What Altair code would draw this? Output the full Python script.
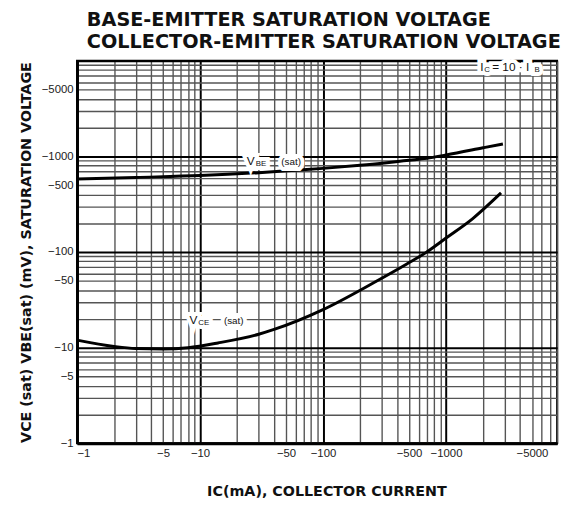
import altair as alt
import pandas as pd

# ---- data ----
vbe_ic = [1, 3, 10, 30, 60, 100, 200, 500, 700, 1000, 2000, 2900]
vbe_mv = [580, 603, 630, 676, 717, 750, 807, 912, 955, 1035, 1230, 1350]

vce_ic = [1, 2, 3, 5, 8, 14, 30, 40, 100, 260, 480, 680, 1000, 1650, 2800]
vce_mv = [12, 10.3, 9.8, 9.7, 10, 11.2, 13.8, 15.5, 25, 48, 75, 98, 140, 224, 415]

label_vals = [1, 5, 10, 50, 100, 500, 1000, 5000]
decades = [1, 10, 100, 1000, 10000]
grid_vals = [m * d for d in [1, 10, 100, 1000] for m in range(1, 10)] + [10000]

title_lines = ["BASE-EMITTER SATURATION VOLTAGE", "COLLECTOR-EMITTER SATURATION VOLTAGE"]
x_title = "IC(mA), COLLECTOR CURRENT"
y_title = "VCE (sat) VBE(sat) (mV),  SATURATION VOLTAGE"

curves = pd.DataFrame(
    {"ic": vbe_ic + vce_ic,
     "mv": vbe_mv + vce_mv,
     "series": ["VBE"] * len(vbe_ic) + ["VCE"] * len(vce_ic)}
)

lab_list = "[" + ",".join(str(v) for v in label_vals) + "]"
dec_list = "[" + ",".join(str(v) for v in decades) + "]"
label_expr = f"indexof({lab_list}, datum.value) >= 0 ? '\u2212' + datum.value : ''"
grid_color = {"condition": {"test": f"indexof({dec_list}, datum.value) >= 0", "value": "#000000"}, "value": "#555555"}
grid_width = {"condition": {"test": f"indexof({dec_list}, datum.value) >= 0", "value": 2}, "value": 1.4}

xscale = alt.Scale(type="log", domain=[1, 8000], nice=False)
yscale = alt.Scale(type="log", domain=[1, 10000], nice=False)

common_axis = dict(
    values=grid_vals, labelExpr=label_expr, labelOverlap=False, ticks=False,
    gridColor=grid_color, gridWidth=grid_width, gridOpacity=1,
    domainColor="black", domainWidth=3,
    labelFont="Liberation Sans", labelFontSize=11.5, labelColor="#222",
    titleFont="DejaVu Sans", titleFontWeight="bold", titleColor="#111",
)

x_enc = alt.X("ic:Q", scale=xscale,
              axis=alt.Axis(title=x_title, titleFontSize=14.5, titlePadding=26, titleX=253,
                            labelPadding=4, **common_axis))
y_enc = alt.Y("mv:Q", scale=yscale,
              axis=alt.Axis(title=y_title, titleFontSize=14.5, titlePadding=8,
                            labelPadding=4, **common_axis))

lines = alt.Chart(curves).mark_line(color="black", strokeWidth=3, interpolate="monotone").encode(
    x=x_enc, y=y_enc, detail="series:N"
)

# annotation pieces: (text, ic, mV, font size, dx, dy)
ann_text = ["V", "BE", "(sat)", "V", "CE", "(sat)", "I", "C", "= 10 \u00b7 I", "B"]
ann_ic = [24, 24, 24, 8.2, 8.2, 8.2, 1900, 1900, 1900, 1900]
ann_mv = [900, 900, 900, 19.5, 19.5, 19.5, 8500, 8500, 8500, 8500]
ann_size = [12, 8, 10, 12, 8, 10, 12, 8, 12, 8]
ann_dx = [0, 9, 35, 0, 9, 35, 0, 4, 12, 55]
ann_dy = [0, 3, 1, 0, 3, 1, 0, 3, 0, 3]

layers = [lines]
for halo in (True, False):
    for t, xi, yi, s, dx, dy in zip(ann_text, ann_ic, ann_mv, ann_size, ann_dx, ann_dy):
        df = pd.DataFrame({"ic": [xi], "mv": [yi], "t": [t]})
        kw = dict(align="left", baseline="middle", fontSize=s, dx=dx, dy=dy,
                  font="Liberation Sans", color="#111")
        if halo:
            kw.update(stroke="white", strokeWidth=8, color="white")
        layers.append(
            alt.Chart(df).mark_text(**kw).encode(
                x=alt.X("ic:Q", scale=xscale), y=alt.Y("mv:Q", scale=yscale), text="t:N"
            )
        )

chart = alt.layer(*layers).properties(
    width=487, height=388,
    autosize=alt.AutoSizeParams(type="none"),
    padding={"left": 70, "top": 50, "right": 8, "bottom": 55},
    title=alt.TitleParams(
        text=title_lines, anchor="start", frame="group", font="DejaVu Sans", fontSize=19.5,
        fontWeight="bold", color="#111", lineHeight=23, offset=2, dx=10,
    ),
).configure_view(stroke="black", strokeWidth=2)

chart.save("out.html", embed_options={"renderer": "svg", "actions": False})
